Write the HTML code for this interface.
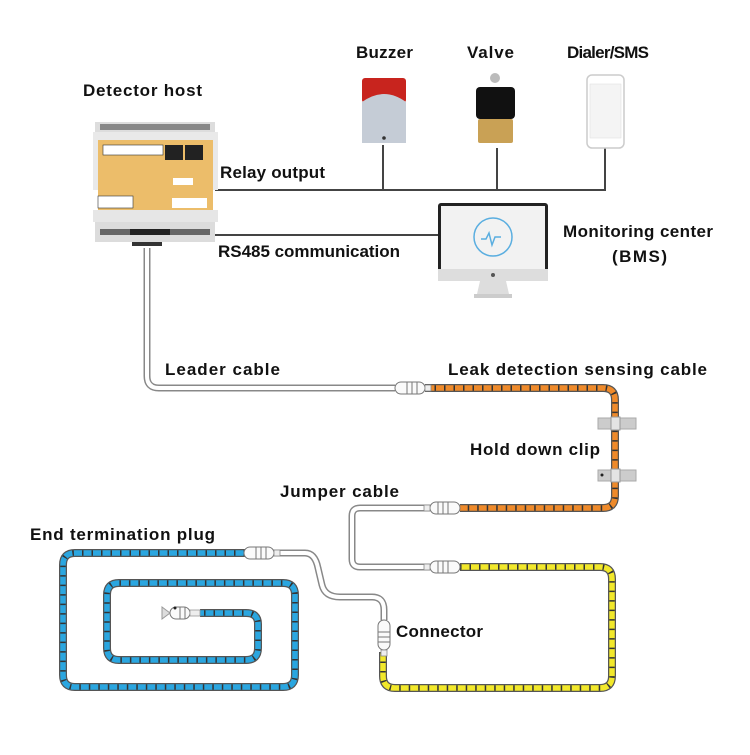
<!DOCTYPE html>
<html><head><meta charset="utf-8"><style>
html,body{margin:0;padding:0;background:#fff}
svg text{font-family:"Liberation Sans","DejaVu Sans",sans-serif;font-weight:bold;font-size:17px;fill:#111}
</style></head><body>
<svg width="750" height="750" viewBox="0 0 750 750" xmlns="http://www.w3.org/2000/svg">
<defs>
<g id="conn">
<rect x="-15" y="-6" width="30" height="12" rx="6" fill="#fafafa" stroke="#777" stroke-width="1"/>
<line x1="-3" y1="-6" x2="-3" y2="6" stroke="#777"/>
<line x1="2" y1="-6" x2="2" y2="6" stroke="#777"/>
<line x1="7" y1="-6" x2="7" y2="6" stroke="#777"/>
<rect x="15" y="-3" width="6" height="6" fill="#eee" stroke="#888" stroke-width="0.8"/>
</g>
</defs>
<g stroke="#444" stroke-width="2" fill="none">
<path d="M215 190 H605 V148"/>
<path d="M383 190 V145"/>
<path d="M497 190 V148"/>
<path d="M215 235 H440"/>
</g>
<rect x="95" y="122" width="120" height="10" fill="#ddd"/>
<rect x="100" y="124" width="110" height="6" fill="#888"/>
<rect x="93" y="132" width="125" height="58" fill="#e9e9e9"/>
<rect x="98" y="140" width="115" height="70" fill="#ecbd6a"/>
<rect x="103" y="145" width="60" height="10" fill="#fff" stroke="#333" stroke-width="0.6"/>
<rect x="165" y="145" width="18" height="15" fill="#222"/>
<rect x="185" y="145" width="18" height="15" fill="#222"/>
<rect x="173" y="178" width="20" height="7" fill="#fff"/>
<rect x="98" y="196" width="35" height="12" fill="#fff" stroke="#333" stroke-width="0.6"/>
<rect x="172" y="198" width="35" height="10" fill="#fff"/>
<rect x="93" y="210" width="125" height="12" fill="#e6e6e6"/>
<rect x="95" y="222" width="120" height="20" fill="#dcdcdc"/>
<rect x="100" y="229" width="110" height="6" fill="#666"/>
<rect x="130" y="229" width="40" height="6" fill="#222"/>
<path d="M132 242 h30 v4 h-30z" fill="#333"/>
<rect x="362" y="78" width="44" height="25" rx="3" fill="#c8241e"/>
<path d="M362 102 Q384 86 406 102 V143 H362Z" fill="#c5ccd6"/>
<circle cx="384" cy="138" r="1.8" fill="#333"/>
<circle cx="495" cy="78" r="5" fill="#bbb"/>
<rect x="476" y="87" width="39" height="32" rx="4" fill="#111"/>
<rect x="478" y="119" width="35" height="24" rx="2" fill="#c9a155"/>
<rect x="587" y="75" width="37" height="73" rx="5" fill="#fff" stroke="#ccc" stroke-width="1.5"/>
<rect x="590" y="84" width="31" height="54" fill="#f4f4f4" stroke="#ddd" stroke-width="0.5"/>
<rect x="438" y="203" width="110" height="76" rx="3" fill="#222"/>
<rect x="441" y="206" width="104" height="63" fill="#f2f2f2"/>
<rect x="438" y="269" width="110" height="12" fill="#ddd"/>
<circle cx="493" cy="275" r="2" fill="#555"/>
<path d="M480 281 h26 l3 13 h-32z" fill="#ddd"/>
<rect x="474" y="294" width="38" height="4" fill="#ccc"/>
<circle cx="493" cy="237" r="19" fill="none" stroke="#5aaee0" stroke-width="1.5"/>
<path d="M481 239 h5 l3 -6 l3 12 l3 -8 h6" fill="none" stroke="#5aaee0" stroke-width="1.5"/>
<g fill="none" stroke-linejoin="round">
<g stroke="#888" stroke-width="7">
<path d="M147 248 V376 Q147 388 159 388 H395"/>
<path d="M430 508 H360 Q352 508 352 516 V559 Q352 567 360 567 H430"/>
<path d="M262 553 H305 Q315 553 318 568 L322 585 Q325 597 340 597 H372 Q384 597 384 610 V620"/>
</g>
<g stroke="#fff" stroke-width="4">
<path d="M147 248 V376 Q147 388 159 388 H395"/>
<path d="M430 508 H360 Q352 508 352 516 V559 Q352 567 360 567 H430"/>
<path d="M262 553 H305 Q315 553 318 568 L322 585 Q325 597 340 597 H372 Q384 597 384 610 V620"/>
</g>
<g stroke="#555" stroke-width="8">
<path d="M425 388 H603 Q615 388 615 400 V496 Q615 508 603 508 H460"/>
<path d="M460 567 H600 Q612 567 612 579 V676 Q612 688 600 688 H395 Q383 688 383 676 V652"/>
<path d="M245 553 H75 Q63 553 63 565 V675 Q63 687 75 687 H283 Q295 687 295 675 V595 Q295 583 283 583 H119 Q107 583 107 595 V648 Q107 660 119 660 H246 Q258 660 258 648 V624 Q258 613 246 613 H200"/>
</g>
<path stroke="#ef8a2a" stroke-width="5.5" d="M425 388 H603 Q615 388 615 400 V496 Q615 508 603 508 H460"/>
<path stroke="#f2e82a" stroke-width="5.5" d="M460 567 H600 Q612 567 612 579 V676 Q612 688 600 688 H395 Q383 688 383 676 V652"/>
<path stroke="#2aa6e0" stroke-width="5.5" d="M245 553 H75 Q63 553 63 565 V675 Q63 687 75 687 H283 Q295 687 295 675 V595 Q295 583 283 583 H119 Q107 583 107 595 V648 Q107 660 119 660 H246 Q258 660 258 648 V624 Q258 613 246 613 H200"/>
<g stroke="#333" stroke-width="5.5" stroke-dasharray="1.5 8">
<path d="M425 388 H603 Q615 388 615 400 V496 Q615 508 603 508 H460"/>
<path d="M460 567 H600 Q612 567 612 579 V676 Q612 688 600 688 H395 Q383 688 383 676 V652"/>
<path d="M245 553 H75 Q63 553 63 565 V675 Q63 687 75 687 H283 Q295 687 295 675 V595 Q295 583 283 583 H119 Q107 583 107 595 V648 Q107 660 119 660 H246 Q258 660 258 648 V624 Q258 613 246 613 H200"/>
</g>
</g>
<rect x="598" y="418" width="38" height="11" fill="#ccc" stroke="#aaa"/>
<rect x="611" y="417" width="9" height="13" fill="#e4e4e4" stroke="#999"/>
<rect x="598" y="470" width="38" height="11" fill="#ccc" stroke="#aaa"/>
<rect x="611" y="469" width="9" height="13" fill="#e4e4e4" stroke="#999"/>
<circle cx="602" cy="475" r="1.5" fill="#222"/>
<use href="#conn" transform="translate(410 388)"/>
<use href="#conn" transform="translate(445 508) rotate(180)"/>
<use href="#conn" transform="translate(445 567) rotate(180)"/>
<use href="#conn" transform="translate(259 553)"/>
<use href="#conn" transform="translate(384 635) rotate(90)"/>
<g transform="translate(182 613)">
<rect x="-12" y="-6" width="20" height="12" rx="6" fill="#fafafa" stroke="#777"/>
<line x1="-2" y1="-6" x2="-2" y2="6" stroke="#777"/><line x1="3" y1="-6" x2="3" y2="6" stroke="#777"/>
<path d="M-12 0 l-8 -6 v12z" fill="#ddd" stroke="#999"/>
<rect x="8" y="-3" width="10" height="6" fill="#eee" stroke="#999" stroke-width="0.8"/>
<circle cx="-7" cy="-5" r="1.5" fill="#222"/>
</g>
<text x="83" y="96" textLength="119">Detector host</text>
<text x="356" y="58" textLength="57">Buzzer</text>
<text x="467" y="58" textLength="47">Valve</text>
<text x="567" y="58" textLength="82">Dialer/SMS</text>
<text x="220" y="178" textLength="105">Relay output</text>
<text x="218" y="257" textLength="182">RS485 communication</text>
<text x="563" y="237" textLength="150">Monitoring center</text>
<text x="612" y="262" textLength="55">(BMS)</text>
<text x="165" y="375" textLength="115">Leader cable</text>
<text x="448" y="375" textLength="259">Leak detection sensing cable</text>
<text x="470" y="455" textLength="130">Hold down clip</text>
<text x="280" y="497" textLength="119">Jumper cable</text>
<text x="30" y="540" textLength="185">End termination plug</text>
<text x="396" y="637" textLength="87">Connector</text>
</svg>
</body></html>
